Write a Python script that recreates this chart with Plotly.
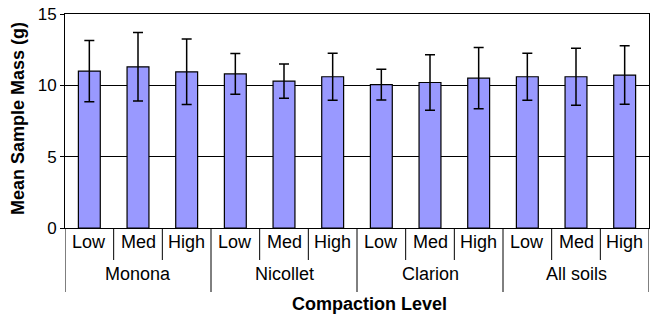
import plotly.graph_objects as go

soils = ["Monona", "Nicollet", "Clarion", "All soils"]
levels = ["Low", "Med", "High"]
means = [11.0, 11.3, 10.95, 10.8, 10.3, 10.6, 10.05, 10.2, 10.5, 10.6, 10.6, 10.72]
errs = [2.15, 2.4, 2.3, 1.43, 1.2, 1.65, 1.07, 1.95, 2.15, 1.65, 2.0, 2.05]
y_ticks = [0, 5, 10, 15]

FONT = "Liberation Sans, Arial, sans-serif"
n = len(soils) * len(levels)
xs = list(range(n))

fig = go.Figure()
fig.add_trace(go.Bar(
    x=xs, y=means, width=0.45,
    marker=dict(color="#9999FF", line=dict(color="black", width=1.2)),
    error_y=dict(type="data", array=errs, color="black", thickness=1.5, width=5),
    showlegend=False,
))

plot_h = 318 - 14 - 90
shapes = []
annotations = []
for gi, soil in enumerate(soils):
    for li, lev in enumerate(levels):
        idx = gi * len(levels) + li
        annotations.append(dict(x=idx, y=0, xref="x", yref="paper", text=lev,
                                showarrow=False, yanchor="middle", yshift=-14,
                                font=dict(family=FONT, size=18, color="black")))
        if li > 0:
            shapes.append(dict(type="line", xref="x", yref="paper",
                               x0=idx - 0.5, x1=idx - 0.5, y0=0, y1=-32 / plot_h,
                               line=dict(color="black", width=1)))
    center = gi * len(levels) + (len(levels) - 1) / 2
    annotations.append(dict(x=center, y=0, xref="x", yref="paper", text=soil,
                            showarrow=False, yanchor="middle", yshift=-46,
                            font=dict(family=FONT, size=18, color="black")))
for gi in range(len(soils) + 1):
    xb = gi * len(levels) - 0.5
    shapes.append(dict(type="line", xref="x", yref="paper",
                       x0=xb, x1=xb, y0=0, y1=-64 / plot_h,
                       line=dict(color="black", width=1)))

annotations.append(dict(x=0.5, y=0, xref="paper", yref="paper",
                        text="<b>Compaction Level</b>", showarrow=False,
                        yanchor="middle", yshift=-76, xshift=12,
                        font=dict(family=FONT, size=18, color="black")))
annotations.append(dict(x=0, y=0.5, xref="paper", yref="paper",
                        text="<b>Mean Sample Mass (g)</b>", showarrow=False,
                        textangle=-90, xanchor="center", yanchor="middle",
                        xshift=-47, yshift=2,
                        font=dict(family=FONT, size=18, color="black")))

fig.update_layout(
    width=650, height=318,
    margin=dict(l=65, r=1, t=14, b=90),
    plot_bgcolor="white", paper_bgcolor="white",
    shapes=shapes, annotations=annotations,
    bargap=0.55,
)
fig.update_xaxes(range=[-0.5, n - 0.5], showticklabels=False, ticks="",
                 showgrid=False, showline=True, linecolor="black", linewidth=1,
                 mirror=True, zeroline=False)
fig.update_yaxes(range=[0, 15], tickvals=y_ticks, ticks="outside", ticklen=4,
                 tickcolor="black", showgrid=True, gridcolor="black", gridwidth=1,
                 showline=True, linecolor="black", linewidth=1, mirror=True,
                 zeroline=False, ticklabelstandoff=0,
                 tickfont=dict(family=FONT, size=17, color="black"))

fig.write_html("out.html", config={"displayModeBar": False},
               post_script="document.body.style.margin='0';")
